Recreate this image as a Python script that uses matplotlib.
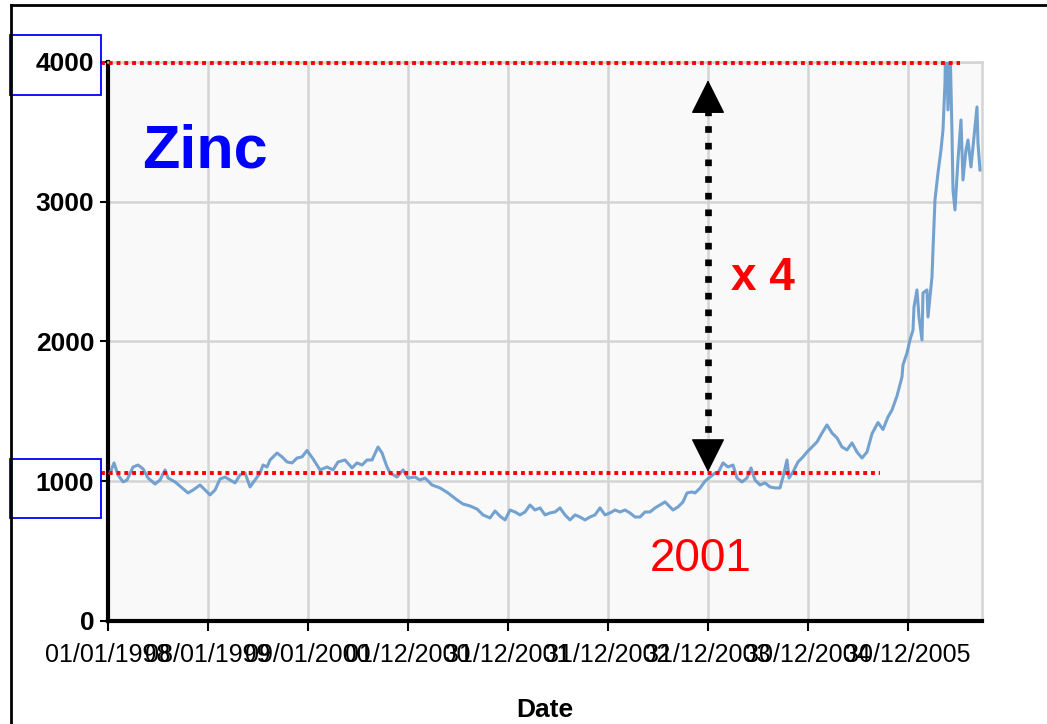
import matplotlib
matplotlib.use("Agg")
import matplotlib.pyplot as plt
from matplotlib.lines import Line2D
from matplotlib.patches import Rectangle

# zinc price (x in decimal years)
years = [
    1998.02, 1998.06, 1998.10, 1998.15, 1998.19, 1998.25, 1998.30, 1998.35, 1998.40, 1998.47,
    1998.52, 1998.57, 1998.60, 1998.67, 1998.74, 1998.80, 1998.85, 1998.92, 1998.97, 1999.02,
    1999.07, 1999.12, 1999.17, 1999.22, 1999.27, 1999.32, 1999.37, 1999.42, 1999.47, 1999.52,
    1999.55, 1999.59, 1999.62, 1999.69, 1999.74, 1999.79, 1999.84, 1999.89, 1999.94, 1999.99,
    2000.05, 2000.12, 2000.19, 2000.25, 2000.30, 2000.37, 2000.44, 2000.49, 2000.54, 2000.59,
    2000.64, 2000.70, 2000.74, 2000.79, 2000.82, 2000.89, 2000.95, 2001.00, 2001.07, 2001.12,
    2001.17, 2001.24, 2001.32, 2001.40, 2001.49, 2001.55, 2001.62, 2001.69, 2001.75, 2001.82,
    2001.87, 2001.92, 2001.97, 2002.02, 2002.07, 2002.12, 2002.17, 2002.22, 2002.27, 2002.32,
    2002.37, 2002.42, 2002.47, 2002.52, 2002.57, 2002.62, 2002.67, 2002.72, 2002.77, 2002.82,
    2002.87, 2002.92, 2002.97, 2003.02, 2003.07, 2003.12, 2003.17, 2003.22, 2003.27, 2003.32,
    2003.37, 2003.42, 2003.47, 2003.52, 2003.57, 2003.60, 2003.65, 2003.70, 2003.75, 2003.79,
    2003.84, 2003.87, 2003.92, 2003.97, 2004.02, 2004.07, 2004.10, 2004.15, 2004.20, 2004.25,
    2004.29, 2004.34, 2004.39, 2004.43, 2004.47, 2004.52, 2004.57, 2004.62, 2004.67, 2004.72,
    2004.75, 2004.79, 2004.81, 2004.85, 2004.90, 2004.95, 2004.99, 2005.04, 2005.09, 2005.14,
    2005.19, 2005.24, 2005.29, 2005.34, 2005.39, 2005.44, 2005.49, 2005.54, 2005.59, 2005.64,
    2005.70, 2005.75, 2005.80, 2005.84, 2005.89, 2005.94, 2005.95, 2005.99, 2006.02, 2006.05,
    2006.06, 2006.09, 2006.11, 2006.14, 2006.15, 2006.19, 2006.20, 2006.24, 2006.25, 2006.27,
    2006.30, 2006.33, 2006.35, 2006.37, 2006.38, 2006.40, 2006.42, 2006.44, 2006.45, 2006.47,
    2006.50, 2006.53, 2006.55, 2006.58, 2006.60, 2006.63, 2006.65, 2006.69, 2006.70, 2006.72,
]
prices = [
    1059, 1131, 1045, 995, 1009, 1102, 1116, 1088, 1023, 980,
    1009, 1081, 1023, 995, 952, 916, 937, 973, 937, 902,
    937, 1016, 1030, 1009, 988, 1045, 1059, 959, 1009, 1059,
    1116, 1102, 1152, 1202, 1174, 1138, 1131, 1166, 1174, 1220,
    1160, 1081, 1102, 1081, 1138, 1152, 1095, 1131, 1116, 1152,
    1152, 1245, 1202, 1102, 1059, 1030, 1081, 1023, 1030, 1009,
    1023, 973, 952, 916, 866, 837, 823, 801, 759, 737,
    787, 750, 723, 794, 780, 759, 780, 830, 794, 809,
    759, 773, 780, 809, 759, 723, 759, 744, 723, 744,
    759, 809, 759, 773, 794, 780, 794, 773, 744, 744,
    780, 780, 809, 830, 852, 830, 794, 816, 852, 916,
    923, 916, 950, 1000, 1030, 1059, 1059, 1131, 1102, 1116,
    1023, 995, 1023, 1095, 1009, 973, 988, 959, 952, 952,
    1030, 1152, 1023, 1066, 1138, 1174, 1209, 1245, 1281, 1345,
    1403, 1345, 1310, 1245, 1224, 1274, 1209, 1166, 1209, 1340,
    1420, 1370, 1460, 1510, 1610, 1746, 1832, 1918, 2011, 2082,
    2247, 2369, 2175, 2011, 2347, 2369, 2175, 2462, 2655, 3013,
    3206, 3370, 3514, 3850, 4300, 3657, 4150, 3492, 3084, 2941,
    3299, 3585, 3156, 3370, 3442, 3249, 3392, 3678, 3421, 3227,
]

tick_years = [1998, 1999, 2000, 2001, 2002, 2003, 2004, 2005, 2006]
tick_labels = ["01/01/1998", "08/01/1999", "09/01/2000", "01/12/2000", "31/12/2001",
               "31/12/2002", "31/12/2003", "30/12/2004", "30/12/2005"]
y_ticks = [0, 1000, 2000, 3000, 4000]

level_low = 1060
level_high = 3990

fig = plt.figure(figsize=(10.47, 7.24), dpi=100)
ax = fig.add_axes([0.1032, 0.1423, 0.8347, 0.7721])
ax.set_facecolor("#f9f9f9")

ax.plot(years, prices, color="#6699cc", lw=2.2, alpha=0.9, zorder=3)

ax.set_xlim(1998.0, 2006.74)
ax.set_ylim(0, 4000)
ax.set_xticks(tick_years)
ax.set_xticklabels(tick_labels, family="Liberation Sans", fontsize=18)
ax.set_yticks(y_ticks)
ax.set_yticklabels([str(v) for v in y_ticks], family="Liberation Sans",
                   fontweight="bold", fontsize=19)
ax.tick_params(axis="x", length=7, width=1.5, pad=9)
ax.tick_params(axis="y", length=6, width=1.5, pad=4)
ax.grid(True, color="#d4d4d4", lw=1.8, zorder=0)
ax.set_axisbelow(True)
for side in ["top", "right"]:
    ax.spines[side].set_color("#d4d4d4")
    ax.spines[side].set_linewidth(1.8)
for side in ["left", "bottom"]:
    ax.spines[side].set_color("black")
    ax.spines[side].set_linewidth(3)
ax.set_xlabel("Date", family="Liberation Sans", fontweight="bold", fontsize=19, labelpad=22)

# red dotted reference levels
ax.plot([1997.93, 2006.52], [level_high, level_high], color="red", lw=2.8,
        ls=(0, (1, 1)), clip_on=False, zorder=5)
ax.plot([1997.93, 2005.72], [level_low, level_low], color="red", lw=2.8,
        ls=(0, (1, 1)), clip_on=False, zorder=5)

# black dotted double arrow: dotted shaft plus two solid heads
arrow_x = 2004.0
ax.plot([arrow_x, arrow_x], [1230, 3710], color="black", lw=4.8,
        ls=(0, (1, 1.5)), solid_capstyle="butt", zorder=6)
head = dict(arrowstyle="-|>,head_length=1.0,head_width=0.5", color="black",
            lw=1, mutation_scale=22, shrinkA=0, shrinkB=0)
ax.annotate("", xy=(arrow_x, 3870), xytext=(arrow_x, 3700), arrowprops=head, zorder=6)
ax.annotate("", xy=(arrow_x, 1066), xytext=(arrow_x, 1240), arrowprops=head, zorder=6)

ax.text(1998.97, 3356, "Zinc", color="#0000ff", fontsize=44, fontweight="bold",
        family="Liberation Sans", ha="center", va="center")
ax.text(2004.55, 2455, "x 4", color="red", fontsize=33, fontweight="bold",
        family="Liberation Sans", ha="center", va="center")
ax.text(2003.93, 440, "2001", color="red", fontsize=33,
        family="Liberation Sans", ha="center", va="center")

# blue boxes around the two tick labels
W, H = 1047, 724
for (x0, y0, x1, y1) in [(10, 35, 101, 95), (10, 459, 101, 518)]:
    fig.add_artist(Rectangle((x0 / W, 1 - y1 / H), (x1 - x0) / W, (y1 - y0) / H,
                             transform=fig.transFigure, fill=False,
                             edgecolor="#0000ff", lw=1.3))

# slide frame
fig.add_artist(Line2D([11 / W, 1], [1 - 5 / H, 1 - 5 / H], color="black", lw=2,
                      transform=fig.transFigure))
fig.add_artist(Line2D([11 / W, 11 / W], [0, 1 - 5 / H], color="black", lw=2,
                      transform=fig.transFigure))

fig.savefig("out.png", dpi=100)
